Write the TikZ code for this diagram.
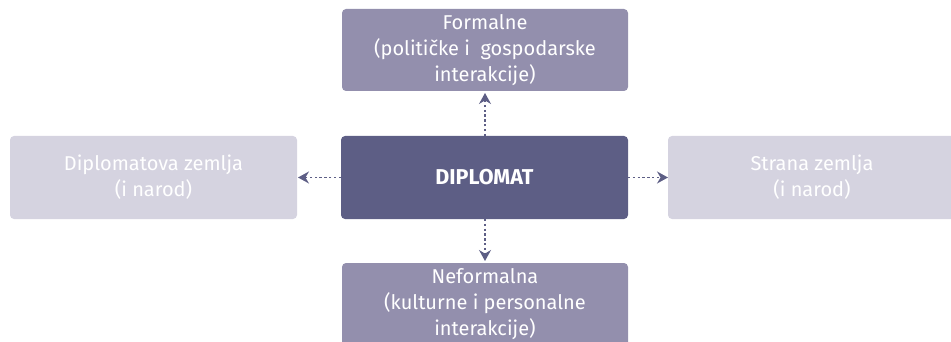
\documentclass[tikz,border=0pt]{standalone}
\usepackage{fontspec}
\setmainfont{Fira Sans}
\usetikzlibrary{arrows.meta}
\definecolor{dark}{HTML}{5D5E85}
\definecolor{mid}{HTML}{938FAD}
\definecolor{light}{HTML}{D5D3E0}
\tikzset{
  box/.style={rounded corners=4pt, inner sep=0pt, align=center, text=white, font=\fontsize{20}{26}\selectfont},
  conn/.style={draw=dark, line width=1.4pt, dash pattern=on 2.4pt off 2.4pt, -{Stealth[length=11pt,width=12pt]}}
}
\begin{document}
\begin{tikzpicture}[x=1pt,y=-1pt]
\useasboundingbox (0,0) rectangle (951,342);
\clip (0,0) rectangle (951,342);
\fill[mid, rounded corners=4pt] (342,9) rectangle (628,91);
\node[box] (top) at (485,50) {Formalne\\(političke i\ \ gospodarske\\interakcije)};
\fill[dark, rounded corners=4pt] (341,136) rectangle (628,219);
\node[box, font=\fontsize{21.5}{26}\bfseries] (center) at (484.5,177.5) {DIPLOMAT};
\fill[light, rounded corners=4pt] (10,136) rectangle (297,219);
\node[box] (left) at (153.5,177.5) {Diplomatova zemlja\\(i narod)};
\fill[light, rounded corners=4pt] (668,136) rectangle (956,219);
\node[box] (right) at (812,177.5) {Strana zemlja\\(i narod)};
\fill[mid, rounded corners=4pt] (342,263) rectangle (628,346);
\node[box] (bottom) at (485,304.5) {Neformalna\\(kulturne i personalne\\interakcije)};
\coordinate (cT) at (485,136);
\coordinate (cB) at (485,219);
\coordinate (cL) at (341,177.5);
\coordinate (cR) at (628,177.5);
\coordinate (tT) at (485,93);
\coordinate (tB) at (485,261);
\coordinate (tL) at (298,177.5);
\coordinate (tR) at (668,177.5);
\draw[conn] (cT) -- (tT);
\draw[conn] (cB) -- (tB);
\draw[conn] (cL) -- (tL);
\draw[conn] (cR) -- (tR);
\end{tikzpicture}
\end{document}
